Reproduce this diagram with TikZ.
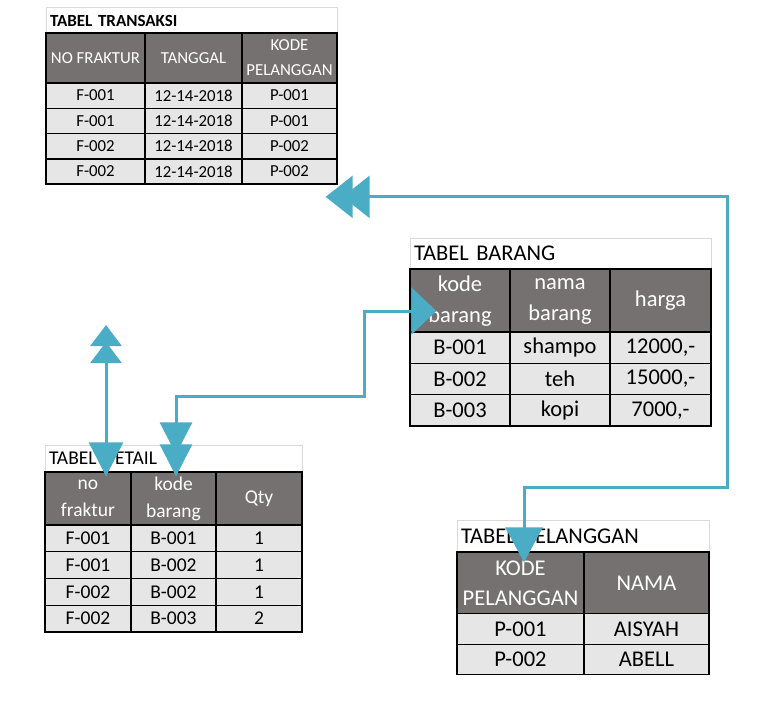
\documentclass[tikz,border=0pt]{standalone}
\usepackage{fontspec}
\setmainfont{Carlito}
\usetikzlibrary{arrows.meta}
\definecolor{hdgray}{HTML}{767171}
\definecolor{datgray}{HTML}{E7E6E6}
\definecolor{ttlgray}{HTML}{D9D9D9}
\definecolor{linkblue}{HTML}{4BACC6}
\tikzset{
  ttl/.style={draw=ttlgray,line width=1pt,fill=white,inner xsep=4pt,inner ysep=0pt,align=left},
  hd/.style={draw=black,line width=1.4pt,fill=hdgray,text=white,inner sep=0pt,align=center},
  dat/.style={draw=black,line width=1.4pt,fill=datgray,inner sep=0pt},
  link/.style={draw=linkblue,line width=3pt},
}
\begin{document}
\begin{tikzpicture}[x=1pt,y=-1pt]
    \fill[white] (0,0) rectangle (771,701);

    % tabel transaksi
    \begin{scope}[font=\fontsize{16.8}{25}\selectfont]
        \node[ttl,text width=283pt,minimum height=25pt,font=\fontsize{17}{20}\bfseries\selectfont] (ttr) at (191.5,20.5){TABEL TRANSAKSI};
        \node[hd,minimum width=99pt,minimum height=50pt] (th1) at (95.5,58){NO FRAKTUR};
        \node[hd,minimum width=97pt,minimum height=50pt] (th2) at (193.5,58){TANGGAL};
        \node[hd,minimum width=95pt,minimum height=50pt] (th3) at (289.5,58){KODE\\PELANGGAN};
        \node[dat,minimum width=99pt,minimum height=25.3pt] (t11) at (95.5,95.6){F-001};
        \node[dat,minimum width=97pt,minimum height=25.3pt] (t12) at (193.5,95.6){12-14-2018};
        \node[dat,minimum width=95pt,minimum height=25.3pt] (t13) at (289.5,95.6){P-001};
        \node[dat,minimum width=99pt,minimum height=25.3pt] (t21) at (95.5,120.9){F-001};
        \node[dat,minimum width=97pt,minimum height=25.3pt] (t22) at (193.5,120.9){12-14-2018};
        \node[dat,minimum width=95pt,minimum height=25.3pt] (t23) at (289.5,120.9){P-001};
        \node[dat,minimum width=99pt,minimum height=25.3pt] (t31) at (95.5,146.2){F-002};
        \node[dat,minimum width=97pt,minimum height=25.3pt] (t32) at (193.5,146.2){12-14-2018};
        \node[dat,minimum width=95pt,minimum height=25.3pt] (t33) at (289.5,146.2){P-002};
        \node[dat,minimum width=99pt,minimum height=25.3pt] (t41) at (95.5,171.5){F-002};
        \node[dat,minimum width=97pt,minimum height=25.3pt] (t42) at (193.5,171.5){12-14-2018};
        \node[dat,minimum width=95pt,minimum height=25.3pt] (t43) at (289.5,171.5){P-002};
    \end{scope}

    % tabel barang
    \begin{scope}[font=\fontsize{22.5}{31}\selectfont]
        \node[ttl,text width=293pt,minimum height=30pt] (tbr) at (560.5,253){TABEL BARANG};
        \node[hd,minimum width=100pt,minimum height=64pt] (bh1) at (460,301){kode\\barang};
        \node[hd,minimum width=100pt,minimum height=64pt] (bh2) at (560,301){nama\\barang};
        \node[hd,minimum width=101pt,minimum height=64pt] (bh3) at (660.5,301){harga};
        \node[dat,minimum width=100pt,minimum height=31.3pt] (b11) at (460,347.7){B-001};
        \node[dat,minimum width=100pt,minimum height=31.3pt] (b12) at (560,347.7){shampo};
        \node[dat,minimum width=101pt,minimum height=31.3pt] (b13) at (660.5,347.7){12000,-};
        \node[dat,minimum width=100pt,minimum height=31.3pt] (b21) at (460,379){B-002};
        \node[dat,minimum width=100pt,minimum height=31.3pt] (b22) at (560,379){teh};
        \node[dat,minimum width=101pt,minimum height=31.3pt] (b23) at (660.5,379){15000,-};
        \node[dat,minimum width=100pt,minimum height=31.3pt] (b31) at (460,410.3){B-003};
        \node[dat,minimum width=100pt,minimum height=31.3pt] (b32) at (560,410.3){kopi};
        \node[dat,minimum width=101pt,minimum height=31.3pt] (b33) at (660.5,410.3){7000,-};
    \end{scope}

    % tabel detail
    \begin{scope}[font=\fontsize{19.5}{27}\selectfont]
        \node[ttl,text width=249pt,minimum height=27pt] (tdt) at (173.5,458.5){TABEL DETAIL};
        \node[hd,minimum width=86pt,minimum height=53pt] (dh1) at (88,498.5){no\\fraktur};
        \node[hd,minimum width=85pt,minimum height=53pt] (dh2) at (173.5,498.5){kode\\barang};
        \node[hd,minimum width=86pt,minimum height=53pt] (dh3) at (259,498.5){Qty};
        \node[dat,minimum width=86pt,minimum height=26.8pt] (d11) at (88,538.4){F-001};
        \node[dat,minimum width=85pt,minimum height=26.8pt] (d12) at (173.5,538.4){B-001};
        \node[dat,minimum width=86pt,minimum height=26.8pt] (d13) at (259,538.4){1};
        \node[dat,minimum width=86pt,minimum height=26.8pt] (d21) at (88,565.1){F-001};
        \node[dat,minimum width=85pt,minimum height=26.8pt] (d22) at (173.5,565.1){B-002};
        \node[dat,minimum width=86pt,minimum height=26.8pt] (d23) at (259,565.1){1};
        \node[dat,minimum width=86pt,minimum height=26.8pt] (d31) at (88,591.9){F-002};
        \node[dat,minimum width=85pt,minimum height=26.8pt] (d32) at (173.5,591.9){B-002};
        \node[dat,minimum width=86pt,minimum height=26.8pt] (d33) at (259,591.9){1};
        \node[dat,minimum width=86pt,minimum height=26.8pt] (d41) at (88,618.6){F-002};
        \node[dat,minimum width=85pt,minimum height=26.8pt] (d42) at (173.5,618.6){B-003};
        \node[dat,minimum width=86pt,minimum height=26.8pt] (d43) at (259,618.6){2};
    \end{scope}

    % tabel pelanggan
    \begin{scope}[font=\fontsize{22.5}{30}\selectfont]
        \node[ttl,text width=244pt,minimum height=32pt] (tpl) at (583,536){TABEL PELANGGAN};
        \node[hd,minimum width=127pt,minimum height=62pt] (ph1) at (520.5,583){KODE\\PELANGGAN};
        \node[hd,minimum width=125pt,minimum height=62pt] (ph2) at (646.5,583){NAMA};
        \node[dat,minimum width=127pt,minimum height=30.5pt] (p11) at (520.5,629){P-001};
        \node[dat,minimum width=125pt,minimum height=30.5pt] (p12) at (646.5,629){AISYAH};
        \node[dat,minimum width=127pt,minimum height=30.5pt] (p21) at (520.5,659.5){P-002};
        \node[dat,minimum width=125pt,minimum height=30.5pt] (p22) at (646.5,659.5){ABELL};
    \end{scope}

    % relasi
    \coordinate (tx) at ([xshift=-12pt,yshift=-12pt]t43.south east);
    \coordinate (pin) at ([xshift=3.5pt,yshift=-11pt]ph1.north);
    \coordinate (dpin) at ([xshift=2.5pt,yshift=-5pt]dh2.north);
    \coordinate (bpin) at ([xshift=27pt,yshift=-10pt]bh1.west);
    \coordinate (fkin) at ([xshift=18pt,yshift=-5pt]dh1.north);
    \coordinate (fkup) at (106,325);
    \coordinate (b1) at (727,487);
    \coordinate (b2) at (364,396);

    \draw[link,{Triangle[length=27pt,width=42pt]}-{Triangle[length=35pt,width=37pt]}] (tx) -| (b1) -| (pin);
    \draw[link,-{Triangle[length=27pt,width=42pt]}] ([xshift=50pt]tx) -- ([xshift=17pt]tx);
    \draw[link,{Triangle[length=32pt,width=32pt]}-{Triangle[length=25pt,width=47pt]}] (dpin) |- (b2) |- (bpin);
    \draw[link,-{Triangle[length=32pt,width=32pt]}] ([yshift=60pt]dpin) -- ([yshift=22pt]dpin);
    \draw[link,{Triangle[length=21pt,width=31pt]}-{Triangle[length=34pt,width=34pt]}] (fkup) -- (fkin);
    \draw[link,-{Triangle[length=21pt,width=31pt]}] ([yshift=-50pt]fkup) -- ([yshift=-17pt]fkup);
\end{tikzpicture}
\end{document}
